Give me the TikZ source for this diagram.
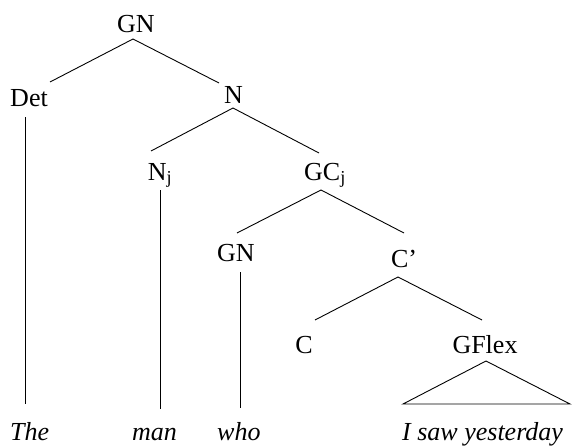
\documentclass[tikz,border=0pt]{standalone}
\usepackage{fontspec}
\setmainfont{Liberation Serif}
\begin{document}
\begin{tikzpicture}[x=1pt,y=-1pt,
  lab/.style={anchor=base,inner sep=0pt,font=\fontsize{26}{30}\selectfont},
  word/.style={anchor=base west,inner sep=0pt,font=\fontsize{26}{30}\selectfont\itshape},
  edge/.style={draw=black,line width=0.9pt}]
\useasboundingbox (0,0) rectangle (573,447);
% labels
\node[lab] (GN) at (136,32) {GN};
\node[lab] (Det) at (29,106) {Det};
\node[lab] (N) at (233.5,103) {N};
\node[lab] (Nj) at (160,180) {N\textsubscript{j}};
\node[lab] (GCj) at (325,180) {GC\textsubscript{j}};
\node[lab] (GNb) at (236,261) {GN};
\node[lab] (Cp) at (404,267) {C’};
\node[lab] (C) at (304,353) {C};
\node[lab] (GFlex) at (485,353) {GFlex};
\node[word] (The) at (10,440) {The};
\node[word] (man) at (132,440) {man};
\node[word] (who) at (217,440) {who};
\node[word] (isaw) at (402,440) {I saw yesterday};
% connector end points
\coordinate (GN-d) at (133,39);
\coordinate (Det-u) at (50,82);
\coordinate (N-u) at (219,83);
\coordinate (N-d) at (233,108);
\coordinate (Nj-u) at (151,151);
\coordinate (GCj-u) at (319,153);
\coordinate (Det-d) at (25,117);
\coordinate (The-u) at (25,404);
\coordinate (Nj-d) at (160,190);
\coordinate (man-u) at (160,409);
\coordinate (GCj-d) at (321,190);
\coordinate (GNb-u) at (237,233);
\coordinate (Cp-u) at (404,233);
\coordinate (GNb-d) at (240,272);
\coordinate (who-u) at (240,408);
\coordinate (Cp-d) at (398,277);
\coordinate (C-u) at (315,320);
\coordinate (GFlex-u) at (482,320);
\coordinate (GFlex-d) at (486,361);
\coordinate (tri-l) at (403,404);
\coordinate (tri-r) at (570,404);
% connectors
\draw[edge] (Det-u) -- (GN-d) -- (N-u);
\draw[edge] (Nj-u) -- (N-d) -- (GCj-u);
\draw[edge] (Det-d) -- (The-u);
\draw[edge] (Nj-d) -- (man-u);
\draw[edge] (GNb-u) -- (GCj-d) -- (Cp-u);
\draw[edge] (GNb-d) -- (who-u);
\draw[edge] (C-u) -- (Cp-d) -- (GFlex-u);
\draw[edge] (tri-l) -- (GFlex-d) -- (tri-r) -- cycle;
\end{tikzpicture}
\end{document}
